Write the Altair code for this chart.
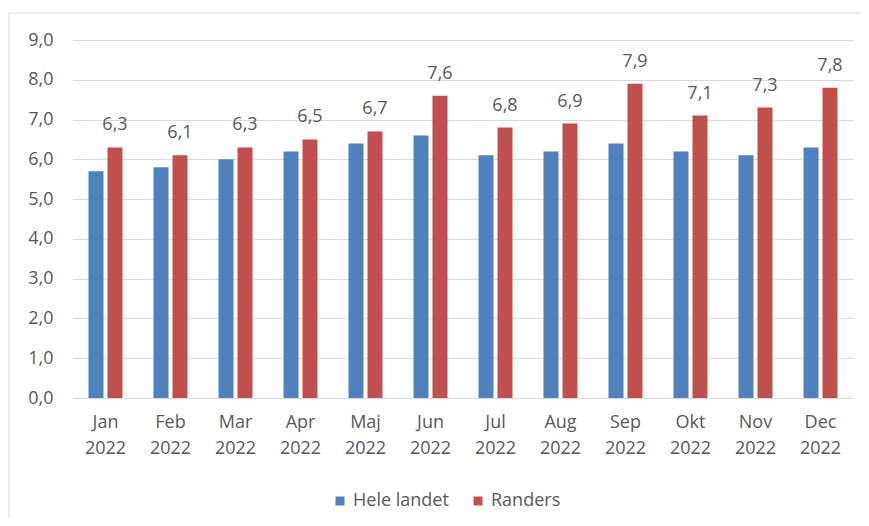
import altair as alt
import pandas as pd

months = ["Jan 2022", "Feb 2022", "Mar 2022", "Apr 2022", "Maj 2022", "Jun 2022",
          "Jul 2022", "Aug 2022", "Sep 2022", "Okt 2022", "Nov 2022", "Dec 2022"]
series = ["Hele landet", "Randers"]
hele_landet = [5.7, 5.8, 6.0, 6.2, 6.4, 6.6, 6.1, 6.2, 6.4, 6.2, 6.1, 6.3]
randers = [6.3, 6.1, 6.3, 6.5, 6.7, 7.6, 6.8, 6.9, 7.9, 7.1, 7.3, 7.8]
colors = ["#4F81BD", "#C0504D"]
y_ticks = [0, 1, 2, 3, 4, 5, 6, 7, 8, 9]

rows = []
for m, h, r in zip(months, hele_landet, randers):
    rows.append({"month": m, "series": series[0], "value": h})
    rows.append({"month": m, "series": series[1], "value": r})
df = pd.DataFrame(rows)

FONT = "Open Sans"
TXT = "#595959"

x_enc = alt.X("month:N", sort=months,
              scale=alt.Scale(paddingInner=0.477, paddingOuter=0.2385),
              axis=alt.Axis(title=None, labelAngle=0, ticks=False, domain=False,
                            labelExpr="split(datum.label, ' ')",
                            labelFont=FONT, labelFontSize=18, labelColor=TXT,
                            labelLineHeight=26, labelPadding=15, grid=False))
xoff_enc = alt.XOffset("series:N", sort=series,
                       scale=alt.Scale(domain=series, paddingInner=0.21, paddingOuter=0))
y_enc = alt.Y("value:Q", scale=alt.Scale(domain=[0, 9], nice=False),
              axis=alt.Axis(title=None, values=y_ticks, tickCount=10, ticks=False, domain=False,
                            labelOverlap=False,
                            labelExpr="replace(format(datum.value, '.1f'), '.', ',')",
                            labelFont=FONT, labelFontSize=18, labelColor=TXT,
                            labelPadding=20, grid=True, gridColor="#d9d9d9", gridWidth=1))

border = alt.Chart(pd.DataFrame({"a": [0]})).mark_rect(
    fillOpacity=0, stroke="#d9d9d9", strokeWidth=1
).encode(x=alt.value(-64), x2=alt.value(795), y=alt.value(-27), y2=alt.value(530))

bars = alt.Chart(df).mark_bar().encode(
    x=x_enc,
    xOffset=xoff_enc,
    y=y_enc,
    color=alt.Color("series:N", sort=series,
                    scale=alt.Scale(domain=series, range=colors),
                    legend=alt.Legend(title=None, orient="none", direction="horizontal",
                                      legendX=258, legendY=452,
                                      symbolType="square", symbolSize=80,
                                      symbolStrokeWidth=0,
                                      labelFont=FONT, labelFontSize=18, labelColor=TXT,
                                      labelOffset=4, columnPadding=20, padding=0)),
)

labels = alt.Chart(df).transform_filter(
    alt.datum.series == "Randers"
).transform_calculate(
    label="replace(format(datum.value, '.1f'), '.', ',')"
).mark_text(font=FONT, fontSize=18, color=TXT, baseline="alphabetic", dy=-17).encode(
    x=x_enc,
    xOffset=xoff_enc,
    y=y_enc,
    text="label:N",
)

chart = alt.layer(border, bars, labels).properties(
    width=780, height=358,
    autosize=alt.AutoSizeParams(type="none"),
    padding={"left": 65, "top": 32, "right": 8, "bottom": 120},
    background="white",
).configure_view(stroke=None)

chart.save("out.html", embed_options={"renderer": "svg", "actions": False})
